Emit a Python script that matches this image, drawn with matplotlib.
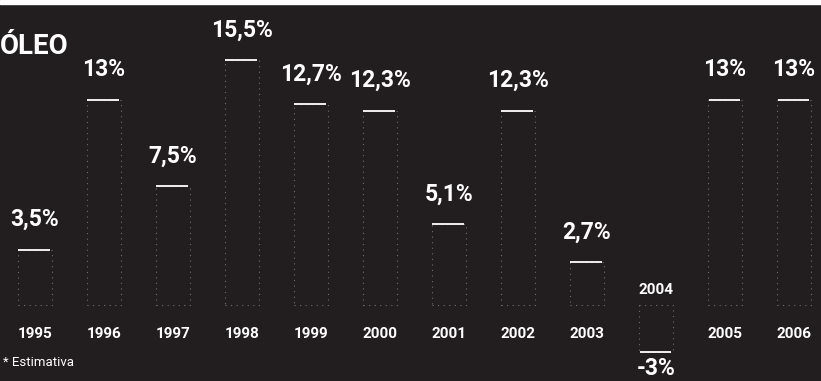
import numpy as np
import matplotlib
matplotlib.use('Agg')
import matplotlib.pyplot as plt

# Data
years = ['1995', '1996', '1997', '1998', '1999', '2000',
         '2001', '2002', '2003', '2004', '2005', '2006']
values = [3.5, 13, 7.5, 15.5, 12.7, 12.3, 5.1, 12.3, 2.7, -3, 13, 13]
value_labels = ['3,5%', '13%', '7,5%', '15,5%', '12,7%', '12,3%',
                '5,1%', '12,3%', '2,7%', '-3%', '13%', '13%']

font = 'Roboto'
bg = '#221e1f'

fig = plt.figure(figsize=(8.21, 3.81), dpi=100, facecolor=bg)
ax = fig.add_axes([0, 0, 1, 1])
ax.set_facecolor(bg)

x = np.arange(len(years))
ax.bar(x, values, width=0.5, color=bg, edgecolor='#6e6e6e',
       linestyle=(0, (1, 4)), linewidth=0.8)
ax.hlines(values, x - 0.24, x + 0.22, color='white', linewidth=1.3)

for xi, v, lab, yr in zip(x, values, value_labels, years):
    if v >= 0:
        ax.text(xi, v + 1.9, lab, ha='center', va='center', color='white',
                fontsize=16.5, fontweight='bold', family=font)
        ax.text(xi, -1.85, yr, ha='center', va='center', color='white',
                fontsize=11, fontweight='bold', family=font)
    else:
        ax.text(xi, 0.95, yr, ha='center', va='center', color='white',
                fontsize=11, fontweight='bold', family=font)
        ax.text(xi, v - 1.0, lab, ha='center', va='center', color='white',
                fontsize=16.5, fontweight='bold', family=font)

ax.set_xlim(-0.507, 11.39)
ax.set_ylim(-4.81, 19.3)
ax.axis('off')

fig.text(0.0, 0.878, 'ÓLEO', ha='left', va='center', color='white',
         fontsize=20, fontweight='bold', family=font)
fig.text(0.004, 0.048, '* Estimativa', ha='left', va='center', color='white',
         fontsize=9.5, family=font)

# white strip along the top edge of the scan
fig.patches.append(plt.Rectangle((0, 0.99), 1, 0.01, transform=fig.transFigure,
                                 color='white', zorder=10))

fig.savefig('out.png', dpi=100, facecolor=bg)
